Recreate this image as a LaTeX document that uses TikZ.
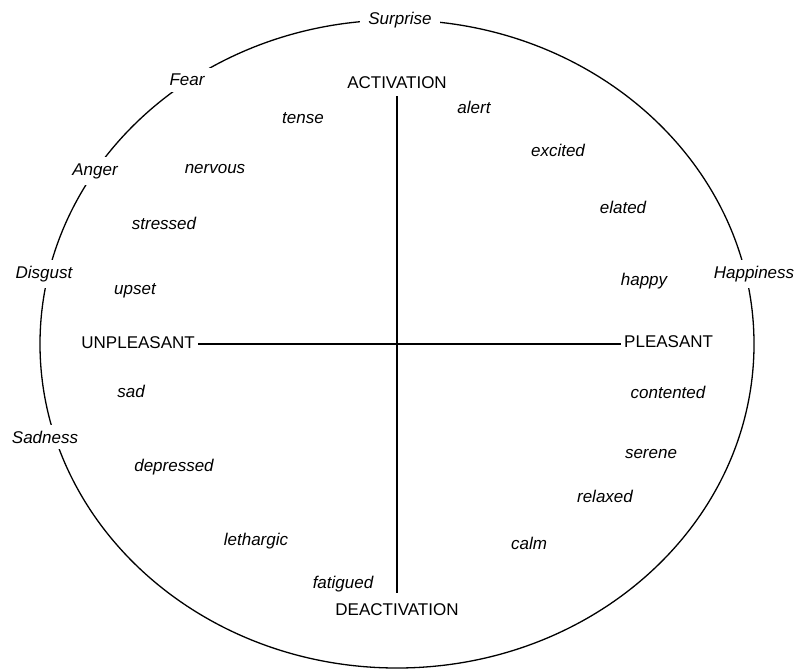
\documentclass[tikz,border=0pt]{standalone}
\usepackage{fontspec}
\setmainfont{Liberation Sans}
\begin{document}
\begin{tikzpicture}[x=1pt,y=-1pt,
  base/.style={font=\fontsize{17}{20}\selectfont, inner sep=0pt},
  emotion/.style={base, font=\fontsize{17}{20}\selectfont\itshape, fill=white, inner xsep=8pt, inner ysep=6pt},
  word/.style={base, font=\fontsize{17}{20}\selectfont\itshape},
  axislabel/.style={base, inner sep=3pt},
  ring/.style={line width=1.3pt},
  axisline/.style={line width=1.5pt}]
\useasboundingbox (0,0) rectangle (799,669);
\draw[ring] (397,344) ellipse [x radius=357pt, y radius=324pt];
% axes
\node[axislabel] (act) at (397,83) {ACTIVATION};
\node[axislabel] (deact) at (397,610) {DEACTIVATION};
\node[axislabel, anchor=east] (unp) at (198,343) {UNPLEASANT};
\node[axislabel, anchor=west] (pl) at (621,342) {PLEASANT};
\draw[axisline, shorten <=4pt, shorten >=8pt] (act.south) -- (deact.north);
\draw[axisline] (unp.east |- 0,344) -- (pl.west |- 0,344);
% emotions on the circle
\node[emotion] (surprise) at (400,20) {Surprise};
\node[emotion] (fear) at (187,80) {Fear};
\node[emotion] (anger) at (95,171) {Anger};
\node[emotion] (disgust) at (44,274) {Disgust};
\node[emotion] (happiness) at (754,274) {Happiness};
\node[emotion] (sadness) at (45,437) {Sadness};
% words
\node[word] (tense) at (303,118) {tense};
\node[word] (alert) at (474,107) {alert};
\node[word] (nervous) at (215,169) {nervous};
\node[word] (excited) at (558,150) {excited};
\node[word] (stressed) at (164,223) {stressed};
\node[word] (elated) at (623,207) {elated};
\node[word] (upset) at (135,291) {upset};
\node[word] (happy) at (644,281) {happy};
\node[word] (sad) at (131,391) {sad};
\node[word] (contented) at (668,392) {contented};
\node[word] (depressed) at (174,467) {depressed};
\node[word] (serene) at (651,454) {serene};
\node[word] (relaxed) at (605,496) {relaxed};
\node[word] (lethargic) at (256,541) {lethargic};
\node[word] (calm) at (529,543) {calm};
\node[word] (fatigued) at (343,584) {fatigued};
\end{tikzpicture}
\end{document}
